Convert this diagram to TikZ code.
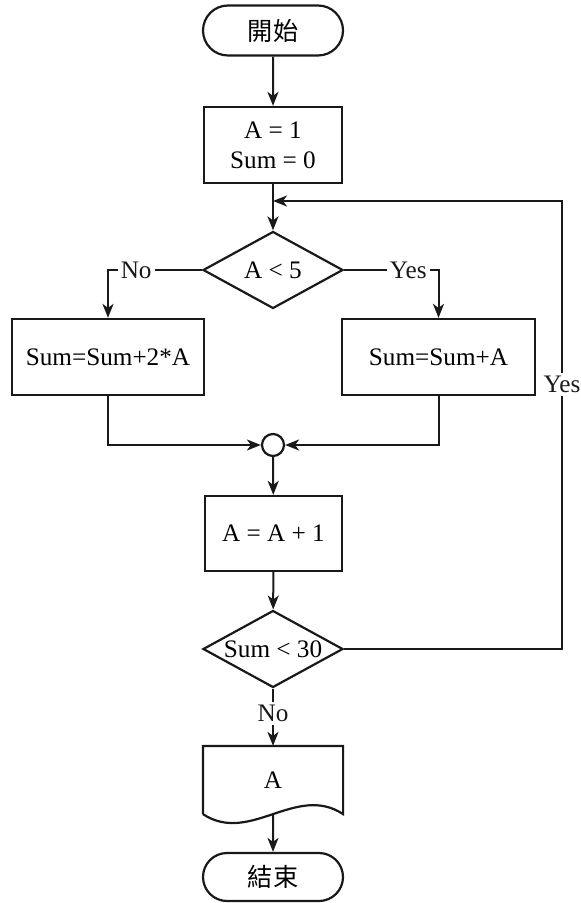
\documentclass[tikz,border=0pt]{standalone}
\usepackage{fontspec}
\setmainfont{Liberation Serif}
\newfontfamily\cjk{Noto Sans CJK TC}
\usetikzlibrary{arrows.meta,calc,shapes.geometric,shapes.misc}
\tikzset{
  base/.style={draw=black!90, line width=1.1pt, align=center, inner sep=0pt, font=\fontsize{12.6}{15}\selectfont},
  term/.style={base, rounded rectangle, minimum width=70pt, minimum height=25pt, font=\fontsize{12.6}{15}\selectfont\cjk},
  box/.style={base, rectangle, minimum width=69pt, minimum height=38pt},
  dec/.style={base, diamond, aspect=1.8, minimum width=70pt, minimum height=38.5pt},
  merger/.style={base, circle, minimum size=11pt},
  lbl/.style={fill=white, inner sep=1.5pt, font=\fontsize{12.6}{15}\selectfont},
  arr/.style={-{Stealth[length=7pt, width=5.5pt, inset=2pt]}, line width=1pt, black!90}}

\begin{document}
\begin{tikzpicture}[x=0.5pt, y=-0.5pt]
\useasboundingbox (0,0) rectangle (580,903);
\node[term] (start) at (273, 30.5) {開始};
\node[box] (init) at (273, 145) {A = 1\\Sum = 0};
\coordinate (back) at (273, 201);
\node[dec] (lt5) at (273, 270) {A < 5};
\node[box, minimum width=96pt] (twice) at (108, 357) {Sum=Sum+2*A};
\node[box, minimum width=96.5pt] (once) at (438.5, 357) {Sum=Sum+A};
\node[merger] (merge) at (273, 445) {};
\node[box, minimum width=68.5pt, minimum height=37.5pt] (inc) at (273.5, 533.5) {A = A + 1};
\node[dec] (lt30) at (273, 649) {Sum < 30};
\node[base, draw=none, minimum width=69pt, minimum height=33pt] (out) at (273, 780) {A};
\node[term, minimum height=24pt] (stop) at (273, 877) {結束};
\coordinate (loop) at (562, 201);
% output symbol
\draw[line width=1.1pt, black!90] (out.south west) -- (out.north west) -- (out.north east) -- (out.south east)
  .. controls ($(out.south)+(23,-31)$) and ($(out.south)+(-23,31)$) .. (out.south west);
\draw[arr] (start) -- (init);
\draw[arr] (init) -- (lt5);
\draw[arr] (lt5.west) -| node[lbl, pos=0.35] {No} (twice.north);
\draw[arr] (lt5.east) -| node[lbl, pos=0.34] {Yes} (once.north);
\draw[arr] (twice.south) |- (merge.west);
\draw[arr] (once.south) |- (merge.east);
\draw[arr] (merge) -- (inc);
\draw[arr] (inc) -- (lt30);
\draw[arr] (lt30.east) -| node[lbl, pos=0.795] {Yes} (loop) -- (back);
\draw[arr] (lt30) -- node[lbl, pos=0.43] {No} (out);
\draw[arr] (out.south) -- (stop);
\end{tikzpicture}
\end{document}
